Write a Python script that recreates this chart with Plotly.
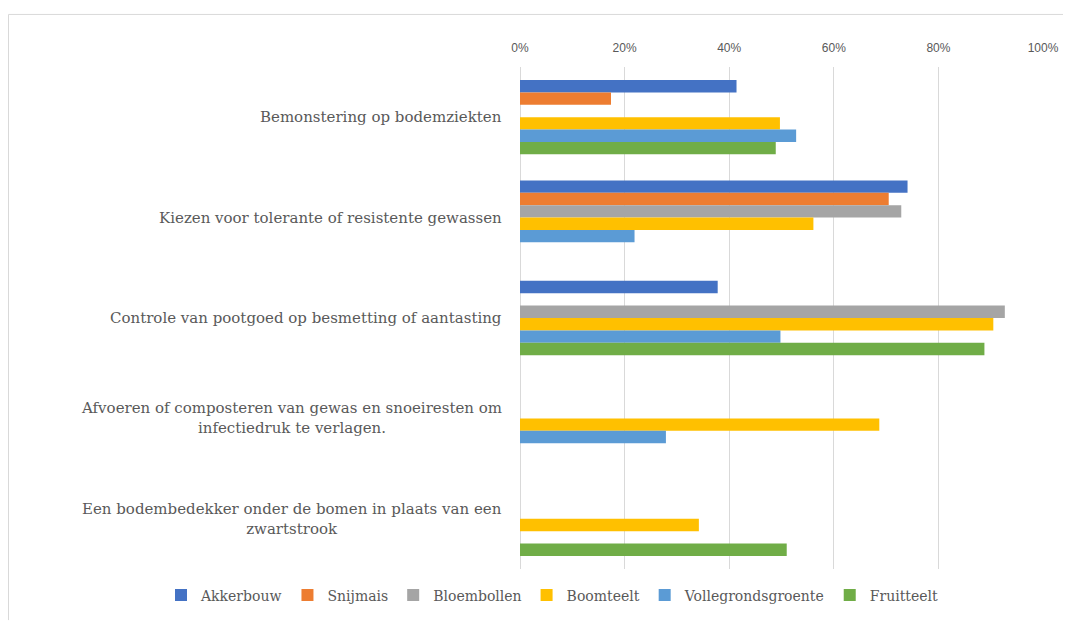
import plotly.graph_objects as go

categories = [
    "Bemonstering op bodemziekten",
    "Kiezen voor tolerante of resistente gewassen",
    "Controle van pootgoed op besmetting of aantasting",
    "Afvoeren of composteren van gewas en snoeiresten om<br>infectiedruk te verlagen.",
    "Een bodembedekker onder de bomen in plaats van een<br>zwartstrook",
]
series_names = ["Akkerbouw", "Snijmais", "Bloembollen", "Boomteelt", "Vollegrondsgroente", "Fruitteelt"]
akkerbouw = [0.414, 0.741, 0.378, None, None]
snijmais = [0.174, 0.705, None, None, None]
bloembollen = [None, 0.729, 0.927, None, None]
boomteelt = [0.497, 0.561, 0.905, 0.687, 0.342]
vollegrondsgroente = [0.528, 0.219, 0.498, 0.279, None]
fruitteelt = [0.489, None, 0.888, None, 0.510]
tick_vals = [0, 0.2, 0.4, 0.6, 0.8, 1.0]
tick_text = ["0%", "20%", "40%", "60%", "80%", "100%"]

values = [akkerbouw, snijmais, bloembollen, boomteelt, vollegrondsgroente, fruitteelt]
colors = ["#4472C4", "#ED7D31", "#A5A5A5", "#FFC000", "#5B9BD5", "#70AD47"]

# page has an 8px body margin; figure is sized to fill the rest of the window
W, H = 1063, 616
ML, MR, MT, MB = 512, 28, 59, 46
PW, PH = W - ML - MR, H - MT - MB

def px_x(page_x):
    return (page_x - 8 - ML) / PW

def px_y(page_y):
    return 1 - (page_y - 8 - MT) / PH

fig = go.Figure()
for name, vals, col in zip(series_names, values, colors):
    fig.add_trace(go.Bar(
        y=categories, x=vals, name=name, orientation="h",
        marker=dict(color=col, line=dict(width=0)),
    ))

for cat in categories:
    fig.add_annotation(
        x=0, xref="paper", y=cat, yref="y",
        text=cat, showarrow=False, xanchor="right", yanchor="middle",
        xshift=-16, align="center",
        font=dict(family="DejaVu Serif", size=15, color="#595959"),
    )

fig.update_layout(
    width=W, height=H,
    margin=dict(l=ML, r=MR, t=MT, b=MB),
    paper_bgcolor="white", plot_bgcolor="white",
    barmode="group", bargap=0.26, bargroupgap=0,
    showlegend=True,
    legend=dict(
        orientation="h", xref="paper", yref="paper",
        x=px_x(161), y=px_y(605), xanchor="left", yanchor="middle",
        font=dict(family="DejaVu Serif", size=14, color="#595959"),
        itemsizing="constant", itemwidth=30, tracegroupgap=0,
    ),
    xaxis=dict(
        side="top", range=[0, 1], tickvals=tick_vals, ticktext=tick_text,
        showgrid=True, gridcolor="#D9D9D9", gridwidth=1,
        zeroline=True, zerolinecolor="#D9D9D9", zerolinewidth=1,
        showline=False, ticks="", ticklabelstandoff=12,
        tickfont=dict(family="Liberation Sans", size=12, color="#595959"),
    ),
    yaxis=dict(
        categoryorder="array", categoryarray=categories,
        autorange="reversed", showticklabels=False, showgrid=False,
        zeroline=False, showline=False, ticks="",
    ),
    shapes=[
        dict(type="line", xref="paper", yref="paper",
             x0=px_x(8.5), x1=px_x(1075),
             y0=px_y(13.5), y1=px_y(13.5),
             line=dict(color="#D9D9D9", width=1)),
        dict(type="line", xref="paper", yref="paper",
             x0=px_x(8.5), x1=px_x(8.5),
             y0=px_y(13.5), y1=px_y(630),
             line=dict(color="#D9D9D9", width=1)),
    ],
)

fig.write_html("out.html")
